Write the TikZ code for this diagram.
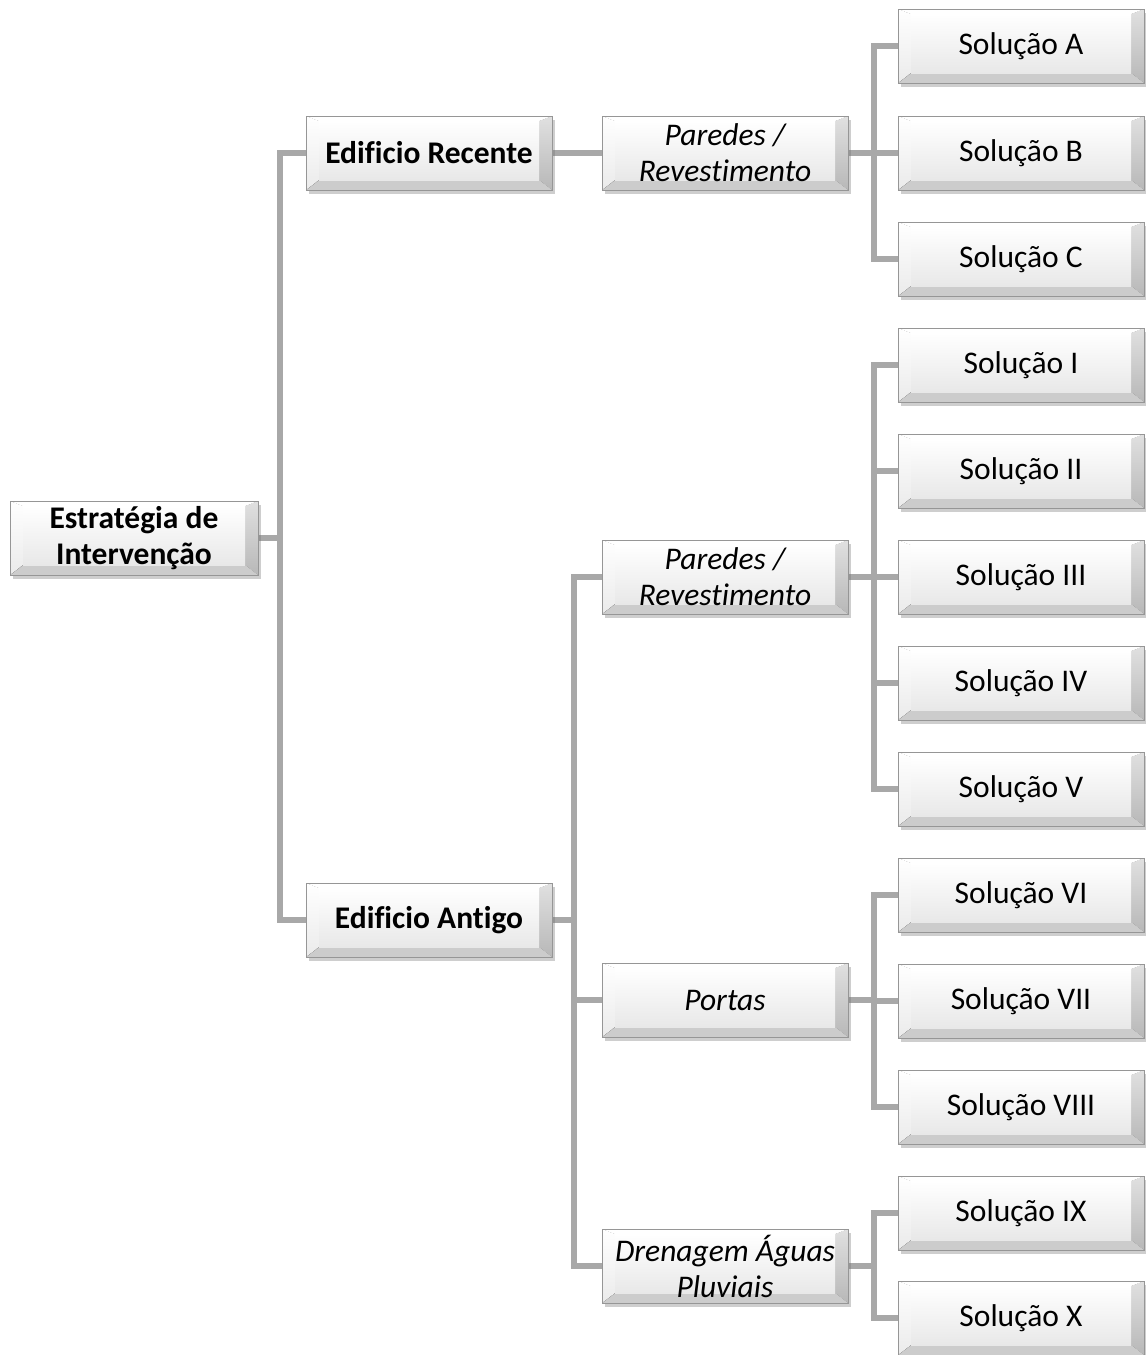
\documentclass[tikz,border=0pt]{standalone}
\usepackage{fontspec}
\setmainfont{Carlito}[Ligatures=NoCommon]
\usetikzlibrary{shadows,backgrounds}
\definecolor{bordergray}{RGB}{150,150,150}
\definecolor{conngray}{RGB}{168,168,168}
\tikzset{
  bevelbox/.style={minimum width=246pt, minimum height=74pt, inner sep=0pt, align=center,
    font=\fontsize{31.5}{36}\selectfont, draw=bordergray, line width=0.8pt,
    drop shadow={shadow xshift=3pt, shadow yshift=-4pt, opacity=0.35, fill=black!55},
    path picture={
      \fill[top color=white,bottom color=black!15] (path picture bounding box.south west) rectangle (path picture bounding box.north east);
      \fill[top color=black!12,bottom color=black!28] (path picture bounding box.north east) -- (path picture bounding box.south east) -- ([xshift=-13pt,yshift=10pt]path picture bounding box.south east) -- ([xshift=-13pt,yshift=-5pt]path picture bounding box.north east) -- cycle;
      \fill[black!20] (path picture bounding box.south west) -- (path picture bounding box.south east) -- ([xshift=-13pt,yshift=10pt]path picture bounding box.south east) -- ([xshift=13pt,yshift=10pt]path picture bounding box.south west) -- cycle;
      \fill[top color=white,bottom color=black!8] (path picture bounding box.north west) -- (path picture bounding box.south west) -- ([xshift=13pt,yshift=10pt]path picture bounding box.south west) -- ([xshift=13pt,yshift=-5pt]path picture bounding box.north west) -- cycle;
      \fill[white] (path picture bounding box.north west) -- (path picture bounding box.north east) -- ([xshift=-13pt,yshift=-5pt]path picture bounding box.north east) -- ([xshift=13pt,yshift=-5pt]path picture bounding box.north west) -- cycle;
      \fill[top color=white,bottom color=black!9] ([xshift=13pt,yshift=10pt]path picture bounding box.south west) rectangle ([xshift=-13pt,yshift=-5pt]path picture bounding box.north east);
    }},
  rootbox/.style={bevelbox, font=\fontsize{31.5}{36}\selectfont\bfseries},
  midbox/.style={bevelbox, font=\fontsize{31.5}{36}\selectfont\itshape},
  conn/.style={draw=conngray, line width=6pt, line join=miter}
}
\begin{document}
\begin{tikzpicture}[x=1pt,y=-1pt]
\useasboundingbox (0,0) rectangle (1146,1355);
\node[rootbox, minimum width=248pt] (r) at (134,538) {Estratégia de\\Intervenção};
\node[rootbox] (er) at (429,153) {Edificio Recente};
\node[rootbox] (ea) at (429,920) {Edificio Antigo};
\node[midbox] (p1) at (725,153) {Paredes /\\Revestimento};
\node[midbox] (p2) at (725,577) {Paredes /\\Revestimento};
\node[midbox] (po) at (725,1000) {Portas};
\node[midbox] (dr) at (725,1266) {Drenagem Águas\\Pluviais};
\node[bevelbox] (sA) at (1021,46) {Solução A};
\node[bevelbox] (sB) at (1021,153) {Solução B};
\node[bevelbox] (sC) at (1021,259) {Solução C};
\node[bevelbox] (s1) at (1021,365) {Solução I};
\node[bevelbox] (s2) at (1021,471) {Solução II};
\node[bevelbox] (s3) at (1021,577) {Solução III};
\node[bevelbox] (s4) at (1021,683) {Solução IV};
\node[bevelbox] (s5) at (1021,789) {Solução V};
\node[bevelbox] (s6) at (1021,895) {Solução VI};
\node[bevelbox] (s7) at (1021,1001) {Solução VII};
\node[bevelbox] (s8) at (1021,1107) {Solução VIII};
\node[bevelbox] (s9) at (1021,1213) {Solução IX};
\node[bevelbox] (s10) at (1021,1318) {Solução X};
\begin{scope}[on background layer]
  \draw[conn] (r.east) -- ++(22,0) coordinate (k0);
  \draw[conn] (k0) |- (er.west);
  \draw[conn] (k0) |- (ea.west);
  \draw[conn] (er.east) -- (p1.west);
  \draw[conn] (ea.east) -- ++(22,0) coordinate (k1);
  \foreach \t in {p2,po,dr} \draw[conn] (k1) |- (\t.west);
  \draw[conn] (p1.east) -- ++(26,0) coordinate (k2);
  \foreach \t in {sA,sB,sC} \draw[conn] (k2) |- (\t.west);
  \draw[conn] (p2.east) -- ++(26,0) coordinate (k3);
  \foreach \t in {s1,s2,s3,s4,s5} \draw[conn] (k3) |- (\t.west);
  \draw[conn] (po.east) -- ++(26,0) coordinate (k4);
  \foreach \t in {s6,s7,s8} \draw[conn] (k4) |- (\t.west);
  \draw[conn] (dr.east) -- ++(26,0) coordinate (k5);
  \foreach \t in {s9,s10} \draw[conn] (k5) |- (\t.west);
\end{scope}
\end{tikzpicture}
\end{document}
